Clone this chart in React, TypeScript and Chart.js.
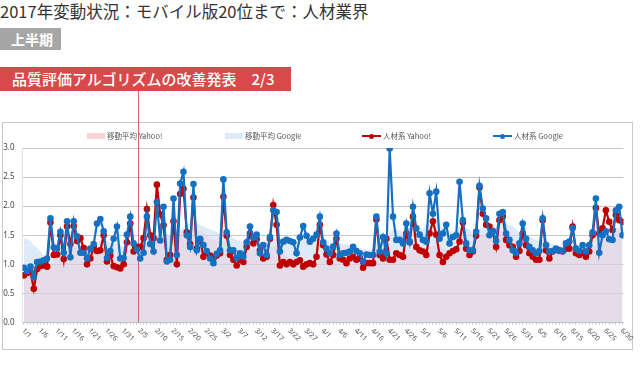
import React, { useEffect, useRef } from 'react';
import { Chart, registerables } from 'chart.js';

Chart.register(...registerables);

const TITLE = '2017年変動状況：モバイル版20位まで：人材業界';
const PERIOD = '上半期';
const EVENT_LABEL = '品質評価アルゴリズムの改善発表　2/3';

const MONTH_DAYS = [31, 28, 31, 30, 31, 30];
const DATES: string[] = [];
MONTH_DAYS.forEach((n, m) => {
  for (let d = 1; d <= n; d++) DATES.push(`${m + 1}/${d}`);
});
const LABEL_EVERY = 5;
const EVENT_POS = 34.2; // where the announcement marker crosses the date axis

const SERIES_NAMES = ['人材系 Google', '人材系 Yahoo!', '移動平均 Yahoo!', '移動平均 Google'];

const GOOGLE = [
  0.94, 0.88, 0.96, 0.78, 1.04, 1.05, 1.07, 1.1, 1.79, 1.29, 1.27, 1.56, 1.2, 1.74, 1.12, 1.74, 1.48, 1.2, 1.2, 1.1,
  1.27, 1.35, 1.7, 1.78, 1.57, 1.11, 1.23, 1.44, 1.65, 1.1, 1.11, 1.51, 1.82, 1.36, 1.25, 1.1, 1.2, 1.82, 1.35, 1.22,
  2.07, 1.41, 1.99, 1.05, 1.08, 2.13, 1.16, 2.39, 2.59, 1.5, 1.3, 2.38, 1.24, 1.44, 1.33, 1.23, 1.1, 1.02, 1.18, 1.24,
  2.46, 1.55, 1.24, 1.24, 1.11, 1.19, 1.13, 1.38, 1.65, 1.46, 1.51, 1.19, 1.33, 1.16, 1.47, 1.93, 1.9, 1.22, 1.39, 1.42,
  1.4, 1.38, 1.19, 1.46, 1.66, 1.49, 1.39, 1.44, 1.51, 1.82, 1.38, 1.27, 1.19, 1.3, 1.53, 1.16, 1.19, 1.2, 1.22, 1.3,
  1.23, 1.19, 1.05, 1.17, 1.16, 1.16, 1.82, 1.22, 1.47, 1.19, 2.99, 1.82, 1.42, 1.42, 1.36, 1.7, 1.39, 1.99, 1.62, 1.51,
  1.42, 1.39, 2.22, 1.87, 2.25, 1.44, 1.53, 1.68, 1.36, 1.47, 1.5, 2.42, 1.76, 1.36, 1.24, 1.24, 1.56, 2.35, 1.96, 1.79,
  1.5, 1.57, 1.4, 1.87, 1.9, 1.53, 1.42, 1.24, 1.19, 1.36, 1.7, 1.44, 1.3, 1.24, 1.19, 1.23, 1.79, 1.33, 1.22, 1.23,
  1.27, 1.23, 1.23, 1.36, 1.39, 1.62, 1.27, 1.23, 1.33, 1.22, 1.33, 1.55, 2.13, 1.2, 1.5, 1.57, 1.43, 1.42, 1.93, 1.99,
  1.5,
];

const YAHOO = [
  0.81, 0.85, 0.87, 0.58, 0.92, 0.97, 0.98, 0.96, 1.72, 1.16, 1.17, 1.5, 1.09, 1.65, 1.35, 1.66, 1.4, 1.45, 1.28, 1.0,
  1.1, 1.3, 1.23, 1.24, 1.5, 1.05, 1.15, 0.97, 0.95, 0.93, 1.0, 1.38, 1.7, 1.22, 1.3, 1.3, 1.45, 1.95, 1.5, 1.45,
  2.37, 1.86, 1.67, 1.08, 1.16, 1.74, 1.0, 2.21, 2.3, 1.55, 1.35, 2.15, 1.27, 1.42, 1.13, 1.2, 1.15, 1.1, 1.15, 1.19,
  2.16, 1.49, 1.16, 1.08, 0.98, 1.08, 1.04, 1.3, 1.53, 1.36, 1.43, 1.24, 1.1, 1.13, 1.44, 2.02, 1.68, 0.98, 1.04, 1.0,
  1.04, 1.0, 1.04, 1.07, 0.96, 1.0, 1.02, 1.0, 1.13, 1.68, 1.33, 1.17, 1.04, 1.16, 1.44, 1.1, 1.08, 1.02, 1.1, 1.13,
  1.08, 1.1, 0.94, 1.02, 1.02, 1.02, 1.77, 1.16, 1.1, 1.44, 1.08, 1.08, 1.19, 1.16, 1.13, 1.53, 1.38, 1.82, 1.3, 1.24,
  1.22, 1.16, 1.53, 1.74, 1.51, 1.16, 1.04, 1.13, 1.19, 1.23, 1.26, 1.39, 1.72, 1.27, 1.16, 1.22, 1.49, 2.32, 1.87, 1.68,
  1.65, 1.57, 1.3, 1.76, 1.82, 1.42, 1.33, 1.3, 1.13, 1.23, 1.53, 1.33, 1.19, 1.13, 1.08, 1.08, 1.76, 1.24, 1.1, 1.22,
  1.26, 1.24, 1.22, 1.27, 1.27, 1.65, 1.19, 1.16, 1.2, 1.13, 1.22, 1.5, 1.97, 1.53, 1.62, 1.93, 1.73, 1.59, 1.85, 1.76,
  1.73,
];

const GOOGLE_MA = [
  1.45, 1.43, 1.4, 1.33, 1.28, 1.22, 1.15, 1.1, 1.05,
  1.12, 1.18, 1.22, 1.25, 1.3, 1.35, 1.4, 1.42, 1.38, 1.36, 1.32, 1.3,
  1.32, 1.38, 1.42, 1.45, 1.4, 1.38, 1.35, 1.35, 1.33, 1.3, 1.3, 1.35, 1.4,
  1.38, 1.35, 1.38, 1.42, 1.45, 1.45, 1.5, 1.55, 1.55, 1.52, 1.5, 1.55, 1.55, 1.6,
  1.65, 1.68, 1.7, 1.72, 1.7, 1.68, 1.65, 1.62, 1.6, 1.58, 1.55, 1.52, 1.55,
  1.55, 1.5, 1.45, 1.42, 1.4, 1.38, 1.38, 1.4, 1.42, 1.42, 1.4, 1.38, 1.38, 1.4, 1.45,
  1.45, 1.42, 1.4, 1.4, 1.42, 1.42, 1.4, 1.42, 1.45, 1.45, 1.42, 1.42, 1.42, 1.45, 1.45,
  1.42, 1.38, 1.38, 1.38, 1.36, 1.35, 1.35, 1.33, 1.32, 1.3, 1.28, 1.26, 1.25, 1.25, 1.27,
  1.35, 1.38, 1.4, 1.4, 1.55, 1.6, 1.6, 1.58, 1.55, 1.55, 1.58, 1.6, 1.62, 1.62, 1.6,
  1.68, 1.72, 1.72, 1.7, 1.68, 1.62, 1.6, 1.58, 1.56, 1.6, 1.65, 1.65, 1.62, 1.6, 1.55,
  1.55, 1.6, 1.65, 1.68, 1.68, 1.65, 1.65, 1.68, 1.7, 1.7, 1.68, 1.65, 1.6, 1.55, 1.55,
  1.5, 1.48, 1.45, 1.42, 1.4, 1.42, 1.42, 1.38, 1.35, 1.33, 1.32, 1.3, 1.3, 1.32, 1.35,
  1.35, 1.33, 1.32, 1.32, 1.35, 1.4, 1.48, 1.5, 1.52, 1.55, 1.58, 1.6, 1.62, 1.62, 1.6,
];

const YAHOO_MA = [
  0.82, 0.84, 0.86, 0.88, 0.9, 0.93, 0.96, 1.0, 1.02,
  1.08, 1.12, 1.15, 1.18, 1.22, 1.25, 1.28, 1.3, 1.3, 1.28, 1.26, 1.24,
  1.24, 1.24, 1.25, 1.25, 1.22, 1.2, 1.15, 1.12, 1.1, 1.1, 1.12, 1.18, 1.22,
  1.25, 1.28, 1.32, 1.38, 1.42, 1.45, 1.5, 1.52, 1.52, 1.5, 1.48, 1.5, 1.52, 1.55,
  1.6, 1.6, 1.6, 1.62, 1.6, 1.58, 1.55, 1.5, 1.45, 1.42, 1.4, 1.38, 1.4,
  1.4, 1.35, 1.3, 1.26, 1.22, 1.2, 1.2, 1.22, 1.24, 1.25, 1.25, 1.24, 1.25, 1.28, 1.32,
  1.3, 1.25, 1.2, 1.15, 1.1, 1.08, 1.06, 1.05, 1.04, 1.03, 1.03, 1.03, 1.05, 1.1, 1.12,
  1.12, 1.12, 1.12, 1.13, 1.12, 1.1, 1.1, 1.08, 1.08, 1.08, 1.08, 1.07, 1.06, 1.05, 1.1,
  1.18, 1.2, 1.2, 1.22, 1.22, 1.2, 1.2, 1.2, 1.18, 1.2, 1.22, 1.25, 1.28, 1.28, 1.26,
  1.28, 1.3, 1.32, 1.32, 1.3, 1.28, 1.25, 1.22, 1.22, 1.25, 1.3, 1.35, 1.35, 1.33, 1.3,
  1.35, 1.45, 1.5, 1.55, 1.58, 1.58, 1.55, 1.55, 1.58, 1.55, 1.5, 1.45, 1.4, 1.35, 1.35,
  1.32, 1.3, 1.28, 1.25, 1.22, 1.25, 1.25, 1.22, 1.2, 1.2, 1.2, 1.2, 1.2, 1.22, 1.25,
  1.25, 1.22, 1.2, 1.2, 1.22, 1.28, 1.35, 1.4, 1.45, 1.5, 1.55, 1.6, 1.62, 1.65, 1.65,
];

const BLUE = '#1570c2';
const RED = '#c00000';
const GOOGLE_FILL = 'rgba(200,220,242,0.6)';
const YAHOO_FILL = 'rgba(240,200,212,0.4)';
const MARKER = '#d5676b';
const JP = '"Noto Sans CJK JP", "Noto Sans", sans-serif';

const toPoints = (arr: number[]) => arr.map((v, i) => ({ x: i, y: v }));

const overlayPlugin = {
  id: 'overlay',
  afterDatasetDraw(chart: any, args: any) {
    if (args.index !== 2) return;
    const { ctx, chartArea, scales } = chart;
    const x = Math.round(scales.x.getPixelForValue(EVENT_POS)) + 0.5;
    ctx.save();
    ctx.strokeStyle = MARKER;
    ctx.lineWidth = 1;
    ctx.beginPath();
    ctx.moveTo(x, 91);
    ctx.lineTo(x, chartArea.bottom);
    ctx.stroke();
    ctx.restore();
  },
  afterDraw(chart: any) {
    const { ctx, chartArea, scales } = chart;
    ctx.save();
    ctx.font = '7px "Noto Sans", sans-serif';
    ctx.fillStyle = '#555';
    ctx.textAlign = 'left';
    ctx.textBaseline = 'middle';
    DATES.forEach((d, i) => {
      if (i % LABEL_EVERY !== 0) return;
      const px = scales.x.getPixelForValue(i);
      ctx.save();
      ctx.translate(px - 1, chartArea.bottom + 7);
      ctx.rotate(Math.PI / 4);
      ctx.fillText(d, 0, 0);
      ctx.restore();
    });
    ctx.restore();
  },
};

function LegendBox({ color }: { color: string }) {
  return <span style={{ display: 'inline-block', width: 18, height: 6, background: color, marginRight: 2 }} />;
}
function LegendLine({ color }: { color: string }) {
  return (
    <span style={{ display: 'inline-block', position: 'relative', width: 19, height: 6, marginRight: 2 }}>
      <span style={{ position: 'absolute', left: 0, top: 2, width: 19, height: 2, background: color }} />
      <span style={{ position: 'absolute', left: 7, top: 0.5, width: 5, height: 5, borderRadius: 3, background: color }} />
    </span>
  );
}

export default function App() {
  const ref = useRef<HTMLCanvasElement>(null);

  useEffect(() => {
    const chart = new Chart(ref.current as HTMLCanvasElement, {
      type: 'line',
      data: {
        datasets: [
          {
            label: SERIES_NAMES[0], data: toPoints(GOOGLE), order: 0,
            borderColor: BLUE, backgroundColor: BLUE, borderWidth: 2.2,
            pointRadius: 3.3, pointBorderWidth: 0, pointBackgroundColor: BLUE, tension: 0, fill: false,
          },
          {
            label: SERIES_NAMES[1], data: toPoints(YAHOO), order: 1,
            borderColor: RED, backgroundColor: RED, borderWidth: 2.2,
            pointRadius: 3.3, pointBorderWidth: 0, pointBackgroundColor: RED, tension: 0, fill: false,
          },
          {
            label: SERIES_NAMES[2], data: toPoints(YAHOO_MA), order: 2,
            borderColor: 'rgba(0,0,0,0)', borderWidth: 0, backgroundColor: YAHOO_FILL,
            pointRadius: 0, fill: 'origin', tension: 0,
          },
          {
            label: SERIES_NAMES[3], data: toPoints(GOOGLE_MA), order: 3,
            borderColor: 'rgba(0,0,0,0)', borderWidth: 0, backgroundColor: GOOGLE_FILL,
            pointRadius: 0, fill: 'origin', tension: 0,
          },
        ],
      },
      options: {
        responsive: false,
        animation: false,
        layout: { padding: { top: 148, right: 16.5, bottom: 0, left: 0 } },
        plugins: { legend: { display: false }, tooltip: { enabled: false } },
        scales: {
          x: {
            type: 'linear',
            min: -0.4,
            max: 180.3,
            afterBuildTicks: (s: any) => { s.ticks = DATES.map((_, i) => ({ value: i })); },
            afterFit: (s: any) => { s.height = 55.5; },
            ticks: { display: false },
            grid: { drawOnChartArea: false, drawTicks: true, tickLength: 2, color: '#c4c4c4' },
            border: { color: '#c4c4c4' },
          },
          y: {
            min: 0,
            max: 3,
            afterFit: (s: any) => { s.width = 22.5; },
            ticks: {
              stepSize: 0.5, padding: 8, color: '#444',
              font: { size: 8, family: '"Noto Sans", sans-serif' },
              callback: (v: any) => Number(v).toFixed(1),
            },
            grid: { color: '#c6c6c6', drawTicks: false },
            border: { display: true, color: '#e2e2e2' },
          },
        },
      },
      plugins: [overlayPlugin],
    } as any);
    return () => chart.destroy();
  }, []);

  return (
    <div style={{ position: 'absolute', left: 0, top: 0, width: 640, height: 378, background: '#fff', overflow: 'hidden', fontFamily: JP }}>
      <div style={{ position: 'absolute', left: 0, top: 3, fontSize: 16.5, lineHeight: '17px', color: '#333', whiteSpace: 'nowrap' }}>{TITLE}</div>
      <div style={{ position: 'absolute', left: 0, top: 28, width: 61, height: 22, background: '#a6a6a6', color: '#fff', fontSize: 14, fontWeight: 700, lineHeight: '22px', paddingLeft: 11, boxSizing: 'border-box' }}>{PERIOD}</div>
      <div style={{ position: 'absolute', left: 0, top: 67, width: 291, height: 24, background: '#d9484a', color: '#fff', fontSize: 15, fontWeight: 500, lineHeight: '24px', paddingLeft: 12, boxSizing: 'border-box', whiteSpace: 'nowrap' }}>{EVENT_LABEL}</div>
      <div style={{ position: 'absolute', left: 2, top: 122, width: 631, height: 228, border: '1px solid #c8c8c8', boxSizing: 'border-box' }} />
      <canvas ref={ref} width={640} height={378} style={{ position: 'absolute', left: 0, top: 0, width: 640, height: 378 }} />
      <div style={{ position: 'absolute', top: 131, left: 0, fontSize: 7.5, lineHeight: '10px', color: '#555', whiteSpace: 'nowrap' }}>
        <span style={{ position: 'absolute', left: 87, display: 'flex', alignItems: 'center' }}><LegendBox color="#f9d3da" />{SERIES_NAMES[2]}</span>
        <span style={{ position: 'absolute', left: 225, display: 'flex', alignItems: 'center' }}><LegendBox color="#dde9f6" />{SERIES_NAMES[3]}</span>
        <span style={{ position: 'absolute', left: 362, display: 'flex', alignItems: 'center' }}><LegendLine color={RED} />{SERIES_NAMES[1]}</span>
        <span style={{ position: 'absolute', left: 493, display: 'flex', alignItems: 'center' }}><LegendLine color={BLUE} />{SERIES_NAMES[0]}</span>
      </div>
    </div>
  );
}
